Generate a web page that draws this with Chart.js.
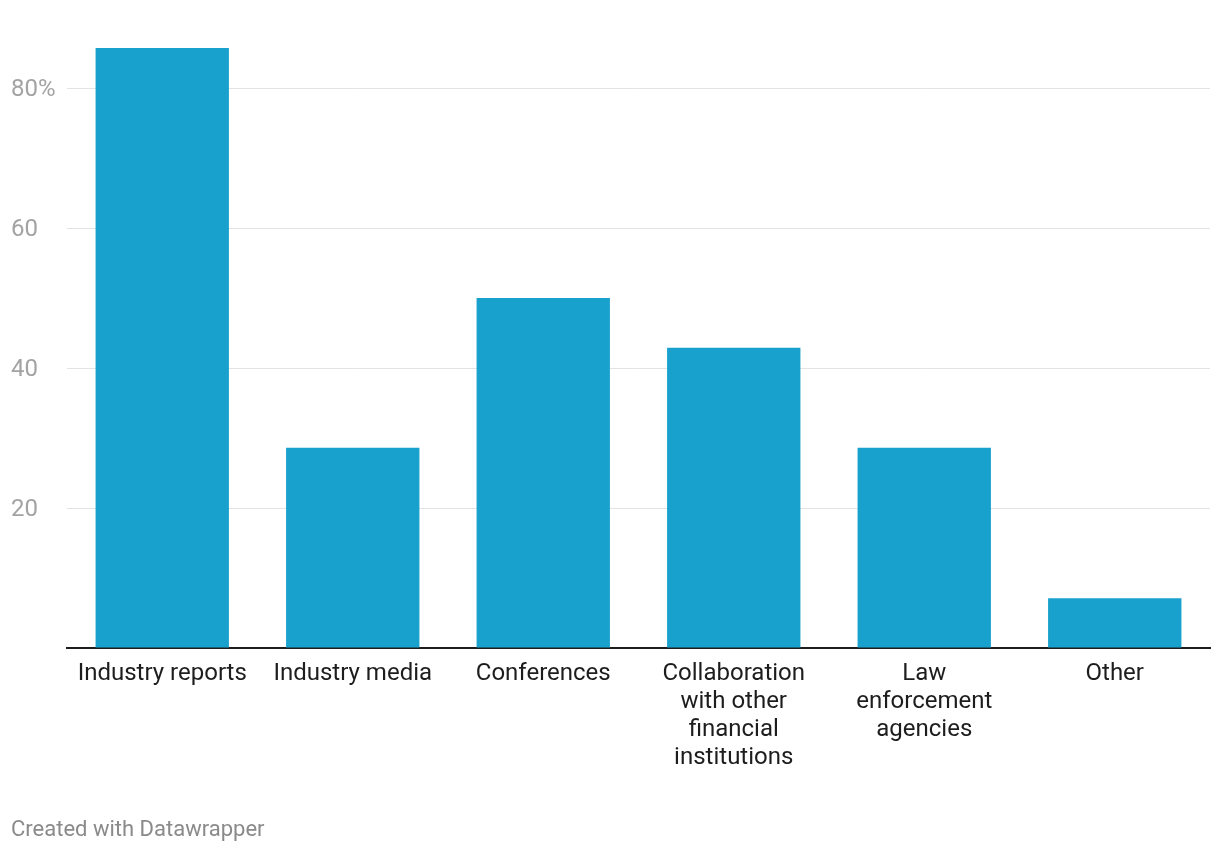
<!DOCTYPE html>
<html>
<head>
<meta charset="utf-8">
<script src="https://cdn.jsdelivr.net/npm/chart.js@4/dist/chart.umd.min.js"></script>
<style>
  html, body { margin: 0; padding: 0; background: #fff; }
  #wrap { position: relative; width: 1220px; height: 852px; }
  #footer { position: absolute; left: 11px; top: 816px; font-family: Roboto, sans-serif; font-size: 22px; line-height: 26px; color: #8a8a8a; }
</style>
</head>
<body>
<div id="wrap">
  <canvas id="c" width="1220" height="852"></canvas>
  <div id="footer">Created with Datawrapper</div>
</div>
<script>
const categories = [
  ["Industry reports"],
  ["Industry media"],
  ["Conferences"],
  ["Collaboration", "with other", "financial", "institutions"],
  ["Law", "enforcement", "agencies"],
  ["Other"]
];
const values = [85.7, 28.6, 50.0, 42.9, 28.6, 7.1];
const tickValues = [0, 20, 40, 60, 80];
const tickLabels = ["", "20", "40", "60", "80%"];

new Chart(document.getElementById('c'), {
  type: 'bar',
  data: {
    labels: categories,
    datasets: [{
      data: values,
      backgroundColor: '#18a1cd',
      barPercentage: 0.7,
      categoryPercentage: 1.0
    }]
  },
  options: {
    responsive: false,
    animation: false,
    layout: { padding: { left: 11, right: 10, top: 18, bottom: 0 } },
    plugins: { legend: { display: false }, tooltip: { enabled: false } },
    scales: {
      x: {
        grid: { display: false, drawTicks: false },
        border: { display: true, color: '#1d1d1d', width: 2 },
        ticks: {
          color: '#1d1d1d',
          font: { family: 'Roboto', size: 24, lineHeight: 1.1667 },
          padding: 12,
          maxRotation: 0,
          autoSkip: false
        },
        afterFit: s => { s.height = 204; }
      },
      y: {
        min: 0,
        max: 90,
        afterBuildTicks: s => { s.ticks = tickValues.map(v => ({ value: v })); },
        grid: {
          color: ctx => (ctx.tick && ctx.tick.value === 0) ? 'rgba(0,0,0,0)' : '#e3e3e3',
          lineWidth: 1,
          drawTicks: false
        },
        border: { display: false },
        ticks: {
          color: '#a3a3a3',
          font: { family: 'Roboto', size: 24 },
          crossAlign: 'far',
          padding: 0,
          labelOffset: 2,
          callback: (v) => { const i = tickValues.indexOf(v); return i >= 0 ? tickLabels[i] : ''; }
        },
        afterFit: s => { s.width = 56; }
      }
    }
  }
});
</script>
</body>
</html>
